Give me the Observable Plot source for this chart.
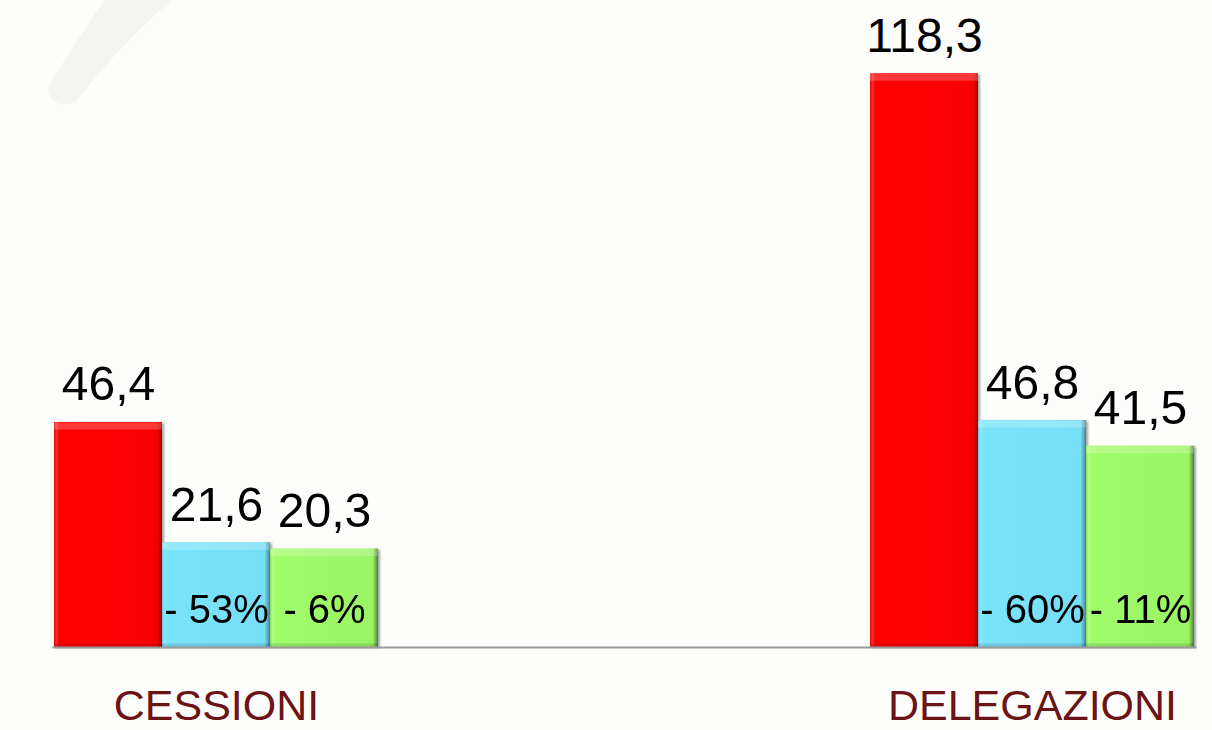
<!DOCTYPE html>
<html>
<head>
<meta charset="utf-8">
<script src="https://cdn.jsdelivr.net/npm/d3@7"></script>
<script src="https://cdn.jsdelivr.net/npm/@observablehq/plot@0.6"></script>
<style>
  html, body { margin: 0; padding: 0; background: #fdfdfb; }
  #wrap { position: relative; width: 1212px; height: 730px; overflow: hidden; }
  #deco { position: absolute; left: 0; top: 0; }
  #chart { position: absolute; left: 0; top: 0; }
</style>
</head>
<body>
<div id="wrap">
  <svg id="deco" width="1212" height="730"><path d="M 104 0 C 85 30, 62 62, 48 88 Q 50 110 76 102 C 100 70, 132 34, 172 0 Z" fill="#f4f4f2"/></svg>
  <div id="chart"></div>
</div>
<script>
// ---- data ----
const categories = ["CESSIONI", "DELEGAZIONI"];
const seriesNames = ["Serie 1", "Serie 2", "Serie 3"];
const values1 = [46.4, 118.3];
const values2 = [21.6, 46.8];
const values3 = [20.3, 41.5];
const change2 = ["- 53%", "- 60%"];
const change3 = ["- 6%", "- 11%"];

const fmt = v => v.toFixed(1).replace(".", ",");
const rows = (vals, s, ch) => categories.map((c, i) => ({cat: c, series: s, value: vals[i], change: ch ? ch[i] : null}));
const d1 = rows(values1, seriesNames[0]);
const d2 = rows(values2, seriesNames[1], change2);
const d3s = rows(values3, seriesNames[2], change3);
const all = [...d1, ...d2, ...d3s];

const font = "Liberation Sans, Arial, sans-serif";
const common = {fx: "cat", x: "series"};

const chart = Plot.plot({
  width: 1212,
  height: 730,
  marginLeft: 12,
  marginRight: 0,
  marginTop: 65,
  marginBottom: 83,
  style: {background: "transparent", fontFamily: font},
  fx: {domain: categories, paddingInner: 0.601, paddingOuter: 0.035, align: 0.707, label: null},
  x: {domain: seriesNames, padding: 0, axis: null},
  y: {domain: [0, 120], axis: null},
  marks: [
    Plot.barY(d1, {...common, y: "value", fill: "url(#gRed)"}),
    Plot.barY(d2, {...common, y: "value", fill: "url(#gCyan)"}),
    Plot.barY(d3s, {...common, y: "value", fill: "url(#gGreen)"}),
    Plot.tickY(all, {...common, y: "value", stroke: "#ffffff", strokeOpacity: 0.22, strokeWidth: 7, dy: 3.5}),
    Plot.tickY(all, {...common, y: () => 0, stroke: "#000000", strokeOpacity: 0.12, strokeWidth: 4, dy: -2}),
    Plot.frame({anchor: "bottom", facet: "super", stroke: "#9a9a9a", strokeWidth: 2}),
    Plot.text(all, {...common, y: "value", text: d => fmt(d.value), lineAnchor: "bottom", dy: -22, fontSize: 48, fill: "#000", fontFamily: font}),
    Plot.text([...d2, ...d3s], {...common, frameAnchor: "bottom", lineAnchor: "bottom", dy: -25, text: "change", fontSize: 40, fill: "#000", fontFamily: font}),
    Plot.axisFx({anchor: "bottom", tickSize: 0, tickPadding: 42, fontSize: 43, fill: "#6b1315", fontFamily: font, label: null})
  ]
});

document.getElementById("chart").appendChild(chart);

const svg = d3.select(chart.tagName.toLowerCase() === "svg" ? chart : chart.querySelector("svg"));
const defs = svg.insert("defs", ":first-child");
function grad(id, stops) {
  const g = defs.append("linearGradient").attr("id", id).attr("x1", "0").attr("x2", "1").attr("y1", "0").attr("y2", "0");
  stops.forEach(([o, c]) => g.append("stop").attr("offset", o).attr("stop-color", c));
}
grad("gRed", [["0", "#d80000"], ["0.02", "#ff2a2a"], ["0.05", "#ff0000"], ["0.95", "#f80000"], ["0.98", "#c80000"], ["1", "#a00000"]]);
grad("gCyan", [["0", "#5cc4e2"], ["0.02", "#8deaff"], ["0.05", "#7ae4fc"], ["0.95", "#76def6"], ["0.98", "#5aa8c0"], ["1", "#3f7f95"]]);
grad("gGreen", [["0", "#7fd650"], ["0.02", "#b2ff84"], ["0.05", "#a0fc6a"], ["0.95", "#9af464"], ["0.98", "#6eb048"], ["1", "#4b7e32"]]);
const f = defs.append("filter").attr("id", "shadow").attr("x", "-10%").attr("y", "-10%").attr("width", "130%").attr("height", "130%");
f.append("feDropShadow").attr("dx", 2).attr("dy", 1).attr("stdDeviation", 1.2).attr("flood-color", "#000").attr("flood-opacity", 0.35);
svg.selectAll("g[aria-label='bar']").attr("filter", "url(#shadow)");
</script>
</body>
</html>
